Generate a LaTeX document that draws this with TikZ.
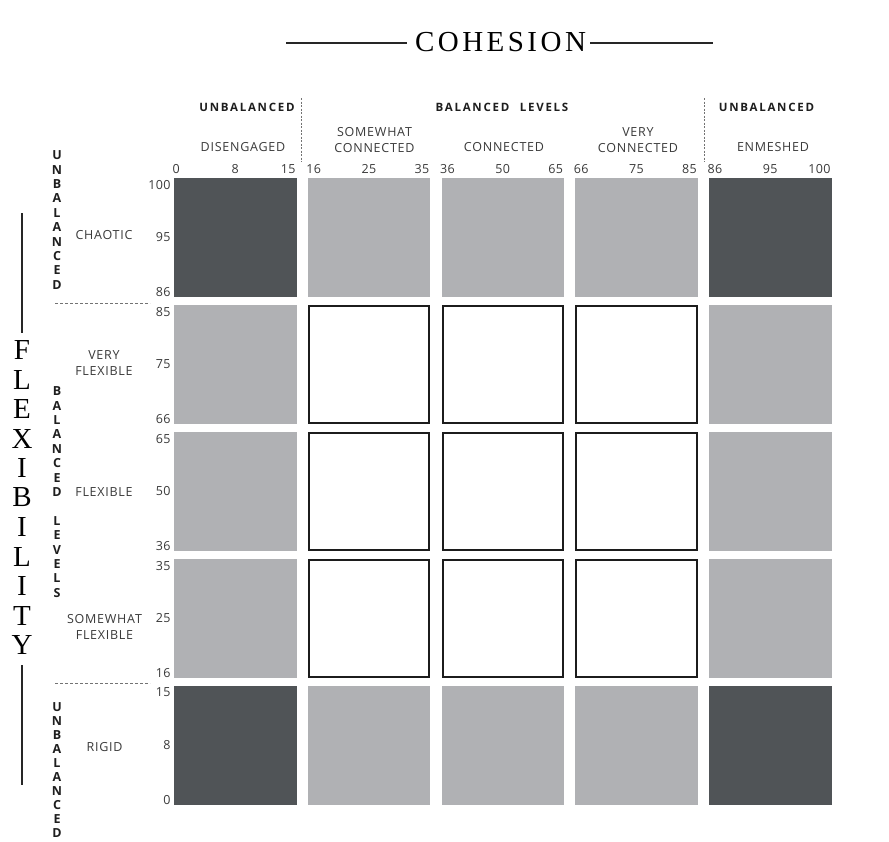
\documentclass[tikz,border=0pt]{standalone}
\usepackage{fontspec}
\usepackage{xcolor}
\setmainfont{Liberation Serif}
\newfontfamily\titlefont[LetterSpace=12]{Liberation Serif}
\newfontfamily\labelfont[LetterSpace=6]{Open Sans}
\newfontfamily\headfont[LetterSpace=15]{Open Sans}
\newfontfamily\numfont[LetterSpace=3]{Open Sans}
\newfontfamily\stackfont{Open Sans}
\definecolor{cellDark}{HTML}{505457}
\definecolor{cellGrey}{HTML}{B0B1B4}
\definecolor{boxInk}{HTML}{1C1C1C}
\definecolor{labelInk}{HTML}{3A3A3A}
\definecolor{headInk}{HTML}{1E1E1E}
\tikzset{
    cell-0/.style = {fill=white, draw=boxInk, line width=2pt, inner sep=0pt, minimum width=120.5pt, minimum height=117pt},
    cell-1/.style = {fill=cellGrey, inner sep=0pt, minimum width=122.5pt, minimum height=119pt},
    cell-2/.style = {fill=cellDark, inner sep=0pt, minimum width=122.5pt, minimum height=119pt},
    scale-num/.style = {inner sep=0pt, text=labelInk, font=\numfont\fontsize{12.5}{15}\selectfont},
    level-name/.style = {inner sep=0pt, align=center, text=labelInk, font=\labelfont\fontsize{12.5}{15.5}\selectfont},
    band-head/.style = {inner sep=0pt, text=headInk, font=\headfont\bfseries\fontsize{11.5}{14}\selectfont},
    band-stack/.style = {inner sep=0pt, align=center, anchor=north, text=headInk, font=\stackfont\bfseries\fontsize{12.5}{14.4}\selectfont},
    axis-title/.style = {inner sep=0pt, text=black, font=\titlefont\fontsize{29}{30}\selectfont},
    axis-letter/.style = {inner sep=0pt, text=black, font=\rmfamily\fontsize{29}{30}\selectfont},
    axis-rule/.style = {draw=black!85, line width=1.3pt},
    band-split/.style = {draw=black!55, line width=0.9pt, dash pattern=on 2pt off 1.5pt},
    row-split/.style = {draw=black!55, line width=0.9pt, dash pattern=on 3pt off 2pt},
}

\begin{document}
\begin{tikzpicture}[x=1pt, y=-1pt]
\useasboundingbox[fill=white] (0,0) rectangle (889,841);

% grid of cells: 0 = open, 1 = grey band, 2 = dark corner
\foreach \r in {0,...,4} {
    \foreach \c in {0,...,4} {
        \pgfmathtruncatemacro\edges{(\r==0||\r==4)+(\c==0||\c==4)}
        \node[cell-\edges] (cell-\r-\c) at (235.25+133.75*\c, 237.5+127*\r) {};
    }
}

% scale along the top
\foreach \c/\lo/\mid/\hi in {0/0/8/15, 1/16/25/35, 2/36/50/65, 3/66/75/85, 4/86/95/100} {
    \node[scale-num, anchor=south west, xshift=-1.5pt, yshift=3.5pt] at (cell-0-\c.north west) {\lo};
    \node[scale-num, anchor=south, yshift=3.5pt] at (cell-0-\c.north) {\mid};
    \node[scale-num, anchor=south east, xshift=-1pt, yshift=3.5pt] at (cell-0-\c.north east) {\hi};
}

% scale down the left
\foreach \r/\hi/\mid/\lo in {0/100/95/86, 1/85/75/66, 2/65/50/36, 3/35/25/16, 4/15/8/0} {
    \node[scale-num, anchor=north east, xshift=-3pt, yshift=-2pt] at (cell-\r-0.north west) {\hi};
    \node[scale-num, anchor=east, xshift=-3pt] at (cell-\r-0.west) {\mid};
    \node[scale-num, anchor=south east, xshift=-3pt] at (cell-\r-0.south west) {\lo};
}

% cohesion axis
\node[axis-title, anchor=base] (cohesion) at (500.5,51) {COHESION};
\draw[axis-rule] (286,43) -- (407,43);
\draw[axis-rule] (590,43) -- (713,43);

\node[band-head] (unbal-left) at (247,107) {UNBALANCED};
\node[band-head] (bal-top) at (502,107) {BALANCED\hspace{6pt} LEVELS};
\node[band-head] (unbal-right) at (766.5,107) {UNBALANCED};
\draw[band-split] (301,98) -- (301,162);
\draw[band-split] (704,98) -- (704,162);

\node[level-name] (disengaged) at (243,147) {DISENGAGED};
\node[level-name] (some-conn) at (374.5,140) {SOMEWHAT\\CONNECTED};
\node[level-name] (connected) at (504,147) {CONNECTED};
\node[level-name] (very-conn) at (638,140) {VERY\\CONNECTED};
\node[level-name] (enmeshed) at (773,147) {ENMESHED};

% flexibility axis
\foreach \ch [count=\i from 0] in {F,L,E,X,I,B,I,L,I,T,Y}
    \node[axis-letter] (flex-\i) at (22, 350+29.5*\i) {\ch};
\draw[axis-rule] (22,213) -- (22,333);
\draw[axis-rule] (22,665) -- (22,785);

\node[band-stack] (unbal-top) at (57,150.5) {U\\N\\B\\A\\L\\A\\N\\C\\E\\D};
\node[band-stack] (bal-side) at (57,386.5) {B\\A\\L\\A\\N\\C\\E\\D\\[14.4pt]L\\E\\V\\E\\L\\S};
\node[band-stack, font=\stackfont\bfseries\fontsize{12.5}{14}\selectfont] (unbal-bottom) at (57,702) {U\\N\\B\\A\\L\\A\\N\\C\\E\\D};
\draw[row-split] (55,303) -- (150,303);
\draw[row-split] (55,683) -- (150,683);

\node[level-name] (chaotic) at (104,235) {CHAOTIC};
\node[level-name] (very-flex) at (104,363) {VERY\\FLEXIBLE};
\node[level-name] (flexible) at (104,492) {FLEXIBLE};
\node[level-name] (some-flex) at (104.5,627) {SOMEWHAT\\FLEXIBLE};
\node[level-name] (rigid) at (104.5,747) {RIGID};
\end{tikzpicture}
\end{document}
